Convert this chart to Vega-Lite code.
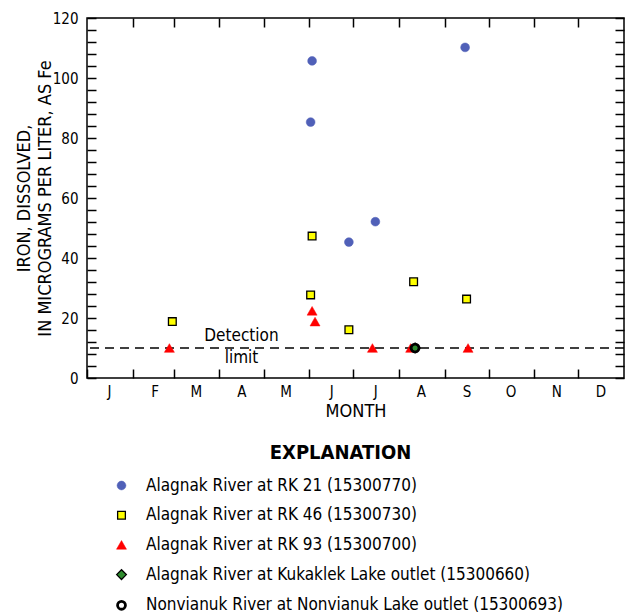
{
  "$schema": "https://vega.github.io/schema/vega-lite/v6.json",
  "width": 537,
  "height": 360,
  "autosize": "none",
  "padding": {"left": 87, "top": 18, "right": 1, "bottom": 237},
  "background": "white",
  "title": {
    "text": "EXPLANATION",
    "orient": "top",
    "anchor": "middle",
    "frame": "group",
    "offset": 0,
    "dx": -15,
    "dy": 452,
    "baseline": "top",
    "font": "DejaVu Sans Condensed",
    "fontSize": 20,
    "fontWeight": "bold",
    "color": "black"
  },
  "config": {
    "font": "DejaVu Sans Condensed",
    "view": {"stroke": "black", "strokeWidth": 1.5},
    "axis": {
      "domain": false,
      "grid": false,
      "tickColor": "black",
      "tickWidth": 1.5,
      "labelColor": "black",
      "titleColor": "black",
      "labelFont": "DejaVu Sans Condensed",
      "titleFont": "DejaVu Sans Condensed",
      "labelFontSize": 15,
      "titleFontSize": 18,
      "titleFontWeight": "normal",
      "labelFlush": false,
      "labelOverlap": false,
      "labelBound": false
    },
    "legend": {
      "labelFont": "DejaVu Sans Condensed",
      "labelFontSize": 17,
      "labelColor": "black",
      "labelLimit": 600
    }
  },
  "resolve": {"axis": {"x": "independent", "y": "independent"}},
  "layer": [
    {
      "data": {"values": [{"limit": 10}]},
      "mark": {"type": "rule", "color": "black", "strokeWidth": 1.5, "strokeDash": [9, 6]},
      "encoding": {
        "y": {"field": "limit", "type": "quantitative", "axis": null}
      }
    },
    {
      "data": {
        "values": [
          {"site": "Alagnak River at RK 21 (15300770)", "date": "2001-06-03", "iron": 105.7},
          {"site": "Alagnak River at RK 21 (15300770)", "date": "2001-06-02", "iron": 85.3},
          {"site": "Alagnak River at RK 21 (15300770)", "date": "2001-06-28", "iron": 45.3},
          {"site": "Alagnak River at RK 21 (15300770)", "date": "2001-07-16", "iron": 52.1},
          {"site": "Alagnak River at RK 21 (15300770)", "date": "2001-09-15", "iron": 110.2},
          {"site": "Alagnak River at RK 46 (15300730)", "date": "2001-02-28", "iron": 18.8},
          {"site": "Alagnak River at RK 46 (15300730)", "date": "2001-06-03", "iron": 47.3},
          {"site": "Alagnak River at RK 46 (15300730)", "date": "2001-06-02", "iron": 27.7},
          {"site": "Alagnak River at RK 46 (15300730)", "date": "2001-06-28", "iron": 16.1},
          {"site": "Alagnak River at RK 46 (15300730)", "date": "2001-08-11", "iron": 32.1},
          {"site": "Alagnak River at RK 46 (15300730)", "date": "2001-09-16", "iron": 26.3},
          {"site": "Alagnak River at RK 93 (15300700)", "date": "2001-02-26", "iron": 10},
          {"site": "Alagnak River at RK 93 (15300700)", "date": "2001-06-03", "iron": 22.4},
          {"site": "Alagnak River at RK 93 (15300700)", "date": "2001-06-05", "iron": 18.8},
          {"site": "Alagnak River at RK 93 (15300700)", "date": "2001-07-14", "iron": 10},
          {"site": "Alagnak River at RK 93 (15300700)", "date": "2001-08-09", "iron": 10},
          {"site": "Alagnak River at RK 93 (15300700)", "date": "2001-09-17", "iron": 10},
          {"site": "Alagnak River at Kukaklek Lake outlet (15300660)", "date": "2001-08-12", "iron": 10},
          {"site": "Nonvianuk River at Nonvianuk Lake outlet (15300693)", "date": "2001-08-12", "iron": 10}
        ]
      },
      "mark": {"type": "point", "filled": true, "opacity": 1},
      "encoding": {
        "x": {
          "field": "date",
          "type": "temporal",
          "scale": {
            "type": "utc",
            "domain": [
              {"year": 2001, "month": 1, "date": 1, "utc": true},
              {"year": 2002, "month": 1, "date": 1, "utc": true}
            ]
          },
          "axis": {
            "orient": "bottom",
            "title": "MONTH",
            "titlePadding": 3,
            "values": [
              {"year": 2001, "month": 1, "date": 1, "utc": true},
              {"year": 2001, "month": 2, "date": 1, "utc": true},
              {"year": 2001, "month": 3, "date": 1, "utc": true},
              {"year": 2001, "month": 4, "date": 1, "utc": true},
              {"year": 2001, "month": 5, "date": 1, "utc": true},
              {"year": 2001, "month": 6, "date": 1, "utc": true},
              {"year": 2001, "month": 7, "date": 1, "utc": true},
              {"year": 2001, "month": 8, "date": 1, "utc": true},
              {"year": 2001, "month": 9, "date": 1, "utc": true},
              {"year": 2001, "month": 10, "date": 1, "utc": true},
              {"year": 2001, "month": 11, "date": 1, "utc": true},
              {"year": 2001, "month": 12, "date": 1, "utc": true}
            ],
            "labelExpr": "slice(utcFormat(datum.value, '%b'), 0, 1)",
            "labelOffset": 22,
            "tickSize": -9,
            "labelPadding": 15
          }
        },
        "y": {
          "field": "iron",
          "type": "quantitative",
          "scale": {"domain": [0, 120], "nice": false},
          "axis": {
            "orient": "left",
            "title": ["IRON, DISSOLVED,", "IN MICROGRAMS PER LITER, AS Fe"],
            "titleLineHeight": 21,
            "values": [0, 4, 8, 12, 16, 20, 24, 28, 32, 36, 40, 44, 48, 52, 56, 60, 64, 68, 72, 76, 80, 84, 88, 92, 96, 100, 104, 108, 112, 116, 120],
            "labelExpr": "datum.value % 20 == 0 ? datum.label : ''",
            "tickSize": -9,
            "labelPadding": 18,
            "titlePadding": -2
          }
        },
        "shape": {
          "field": "site",
          "type": "nominal",
          "sort": null,
          "scale": {
            "domain": ["Alagnak River at RK 21 (15300770)", "Alagnak River at RK 46 (15300730)", "Alagnak River at RK 93 (15300700)", "Alagnak River at Kukaklek Lake outlet (15300660)", "Nonvianuk River at Nonvianuk Lake outlet (15300693)"],
            "range": ["circle", "square", "triangle-up", "diamond", "circle"]
          },
          "legend": {
            "title": null,
            "orient": "none",
            "legendX": 26,
            "legendY": 459,
            "rowPadding": 11.7,
            "labelOffset": 16
          }
        },
        "size": {
          "field": "site",
          "type": "nominal",
          "sort": null,
          "scale": {
            "type": "ordinal",
            "domain": ["Alagnak River at RK 21 (15300770)", "Alagnak River at RK 46 (15300730)", "Alagnak River at RK 93 (15300700)", "Alagnak River at Kukaklek Lake outlet (15300660)", "Nonvianuk River at Nonvianuk Lake outlet (15300693)"],
            "range": [78, 60, 100, 95, 62]
          },
          "legend": {
            "title": null,
            "orient": "none",
            "legendX": 26,
            "legendY": 459,
            "rowPadding": 11.7,
            "labelOffset": 16
          }
        },
        "fill": {
          "field": "site",
          "type": "nominal",
          "sort": null,
          "scale": {
            "domain": ["Alagnak River at RK 21 (15300770)", "Alagnak River at RK 46 (15300730)", "Alagnak River at RK 93 (15300700)", "Alagnak River at Kukaklek Lake outlet (15300660)", "Nonvianuk River at Nonvianuk Lake outlet (15300693)"],
            "range": ["#5060b8", "#ffff00", "#ff0000", "#2e8b2e", "transparent"]
          },
          "legend": {
            "title": null,
            "orient": "none",
            "legendX": 26,
            "legendY": 459,
            "rowPadding": 11.7,
            "labelOffset": 16
          }
        },
        "stroke": {
          "field": "site",
          "type": "nominal",
          "sort": null,
          "scale": {
            "domain": ["Alagnak River at RK 21 (15300770)", "Alagnak River at RK 46 (15300730)", "Alagnak River at RK 93 (15300700)", "Alagnak River at Kukaklek Lake outlet (15300660)", "Nonvianuk River at Nonvianuk Lake outlet (15300693)"],
            "range": ["#5060b8", "#000000", "#ff0000", "#000000", "#000000"]
          },
          "legend": {
            "title": null,
            "orient": "none",
            "legendX": 26,
            "legendY": 459,
            "rowPadding": 11.7,
            "labelOffset": 16
          }
        },
        "strokeWidth": {
          "field": "site",
          "type": "nominal",
          "sort": null,
          "scale": {
            "type": "ordinal",
            "domain": ["Alagnak River at RK 21 (15300770)", "Alagnak River at RK 46 (15300730)", "Alagnak River at RK 93 (15300700)", "Alagnak River at Kukaklek Lake outlet (15300660)", "Nonvianuk River at Nonvianuk Lake outlet (15300693)"],
            "range": [0.5, 1.3, 0.5, 1.3, 2.8]
          },
          "legend": {
            "title": null,
            "orient": "none",
            "legendX": 26,
            "legendY": 459,
            "rowPadding": 11.7,
            "labelOffset": 16
          }
        }
      }
    },
    {
      "data": {
        "values": [
          {"label": "Detection", "date": "2001-04-16", "iron": 14.1},
          {"label": "limit", "date": "2001-04-16", "iron": 6.6}
        ]
      },
      "mark": {"type": "text", "fontSize": 17, "color": "black", "align": "center", "baseline": "middle"},
      "encoding": {
        "x": {
          "field": "date",
          "type": "temporal",
          "axis": {
            "orient": "top",
            "title": null,
            "labels": false,
            "values": [
              {"year": 2001, "month": 2, "date": 1, "utc": true},
              {"year": 2001, "month": 3, "date": 1, "utc": true},
              {"year": 2001, "month": 4, "date": 1, "utc": true},
              {"year": 2001, "month": 5, "date": 1, "utc": true},
              {"year": 2001, "month": 6, "date": 1, "utc": true},
              {"year": 2001, "month": 7, "date": 1, "utc": true},
              {"year": 2001, "month": 8, "date": 1, "utc": true},
              {"year": 2001, "month": 9, "date": 1, "utc": true},
              {"year": 2001, "month": 10, "date": 1, "utc": true},
              {"year": 2001, "month": 11, "date": 1, "utc": true},
              {"year": 2001, "month": 12, "date": 1, "utc": true}
            ],
            "tickSize": -9
          }
        },
        "y": {
          "field": "iron",
          "type": "quantitative",
          "axis": {
            "orient": "right",
            "title": null,
            "labels": false,
            "values": [0, 4, 8, 12, 16, 20, 24, 28, 32, 36, 40, 44, 48, 52, 56, 60, 64, 68, 72, 76, 80, 84, 88, 92, 96, 100, 104, 108, 112, 116, 120],
            "tickSize": -9
          }
        },
        "text": {"field": "label", "type": "nominal"}
      }
    }
  ]
}
